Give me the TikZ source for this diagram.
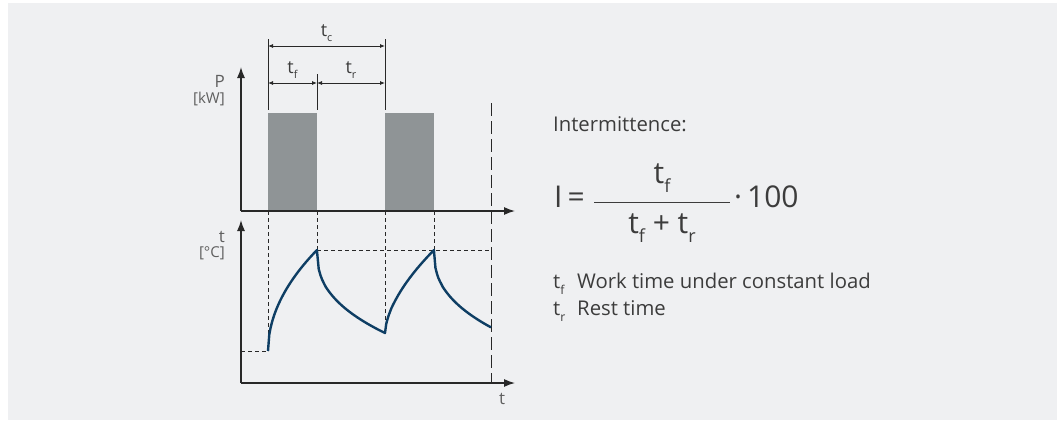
\documentclass[tikz,border=0pt]{standalone}
\usepackage{fontspec}
\usepackage{graphicx}
\setmainfont{Open Sans}
\usetikzlibrary{arrows.meta,positioning}
\definecolor{panelbg}{RGB}{239,240,242}
\definecolor{loadgray}{RGB}{143,148,150}
\definecolor{tempcolor}{RGB}{14,62,100}
\definecolor{inkcolor}{RGB}{40,40,40}
\definecolor{textcolor}{RGB}{60,60,60}
\definecolor{unitcolor}{RGB}{95,95,95}
\newcommand\tsub[1]{\raisebox{-0.3em}{\scalebox{0.6}{#1}}}
\tikzset{
  axisline/.style={-{Latex[length=11pt,width=8pt]},line width=1.3pt,draw=inkcolor},
  dimarrow/.style={{Latex[length=5pt,width=4pt]}-{Latex[length=5pt,width=4pt]},line width=0.8pt,draw=inkcolor},
  dimtick/.style={line width=0.9pt,draw=inkcolor},
  guideline/.style={line width=0.8pt,draw=inkcolor,dash pattern=on 4pt off 3pt},
  cycleline/.style={line width=1pt,draw=inkcolor,dash pattern=on 13pt off 5pt},
  tempcurve/.style={draw=tempcolor,line width=2.4pt,line join=round},
  axislabel/.style={text=unitcolor,inner sep=0pt,font=\fontsize{17}{17}\selectfont},
  unitlabel/.style={text=unitcolor,inner sep=0pt,font=\fontsize{15}{15}\selectfont},
  dimlabel/.style={text=textcolor,inner sep=0pt,font=\fontsize{18}{18}\selectfont},
  bodytext/.style={text=textcolor,inner sep=0pt,font=\fontsize{20.3}{20.3}\selectfont},
  formula/.style={text=textcolor,inner sep=0pt,font=\fontsize{30}{30}\selectfont}
}

\begin{document}
\begin{tikzpicture}[x=1pt,y=-1pt]
  \useasboundingbox (0,0) rectangle (1058,421);
  \fill[panelbg] (8,3) rectangle (1057,420);

  % --- Axis corners ---
  \coordinate (Po) at (241,211);
  \coordinate (Ptop) at (241,67);
  \coordinate (Pend) at (515,211);
  \coordinate (To) at (241,383);
  \coordinate (Ttop) at (241,220);
  \coordinate (Tend) at (515,383);

  % --- Load bars ---
  \fill[loadgray] (268,113) rectangle (317,211);
  \fill[loadgray] (385,113) rectangle (434,211);

  % --- Axes ---
  \draw[axisline] (Po) -- (Ptop);
  \draw[axisline] (Po) -- (Pend);
  \draw[axisline] (To) -- (Ttop);
  \draw[axisline] (To) -- (Tend);

  \node[axislabel,anchor=east] (P) at (225,81) {P};
  \node[unitlabel,below=5pt of P.south east,anchor=north east] (kW) {[kW]};
  \node[axislabel,anchor=east] (T) at (225,237) {t};
  \node[unitlabel,below=4pt of T.south east,anchor=north east] (degC) {[°C]};
  \node[axislabel] (tx) at (502,399) {t};

  % --- Cycle dimensions ---
  \coordinate (c1) at (268,39);
  \coordinate (c2) at (317,74);
  \coordinate (c3) at (385,39);
  \draw[dimtick] (c1) -- (268,110);
  \draw[dimtick] (c2) -- (317,110);
  \draw[dimtick] (c3) -- (385,110);
  \draw[dimarrow] (268,46) -- node[dimlabel,above=4pt] (tc) {t\tsub{c}} (385,46);
  \draw[dimarrow] (268,83) -- node[dimlabel,above=4pt] (tf) {t\tsub{f}} (317,83);
  \draw[dimarrow] (317,83) -- node[dimlabel,above=4pt] (tr) {t\tsub{r}} (385,83);

  % --- Guide lines ---
  \coordinate (start) at (268,351);
  \coordinate (peak1) at (317,250);
  \coordinate (low1) at (385,333);
  \coordinate (peak2) at (434,250);
  \coordinate (stop) at (491,328);
  \draw[guideline] (268,211) -- (start);
  \draw[guideline] (241,351) -- (start);
  \draw[guideline] (317,211) -- (peak1);
  \draw[guideline] (385,211) -- (low1);
  \draw[guideline] (434,211) -- (peak2);
  \draw[guideline] (peak1) -- (491,250);
  \draw[cycleline] (491,103) -- (491,383);

  % --- Temperature curve ---
  \draw[tempcurve]
    plot[domain=0:1,samples=40] ({268+49*\x},{351-101*sqrt(\x)})
    -- plot[domain=0:1,samples=40] ({317+68*\x},{250+83*pow(\x+0.00001,0.4)})
    -- plot[domain=0:1,samples=40] ({385+49*\x},{333-83*pow(\x+0.00001,0.6)})
    -- plot[domain=0:1,samples=40] ({434+57*\x},{250+83*pow(0.838*\x+0.00001,0.4)});

  % --- Intermittence formula ---
  \node[bodytext,anchor=base west] (title) at (553,131) {Intermittence:};
  \node[formula,anchor=base west] (lhs) at (554,207) {I\,=};
  \coordinate (barL) at (594,202);
  \coordinate (barR) at (730,202);
  \draw[line width=1pt,draw=textcolor] (barL) -- (barR);
  \node[formula,anchor=base] (num) at (662,183) {t\tsub{f}};
  \node[formula,anchor=base] (den) at (662,233) {t\tsub{f} + t\tsub{r}};
  \node[formula,anchor=base west] (times) at (734,207) {·\,100};

  % --- Legend ---
  \node[bodytext,anchor=base west] (legf) at (553,288)
    {\makebox[24pt][l]{t\tsub{f}}Work time under constant load};
  \node[bodytext,anchor=base west] (legr) at (553,315)
    {\makebox[24pt][l]{t\tsub{r}}Rest time};
\end{tikzpicture}
\end{document}
